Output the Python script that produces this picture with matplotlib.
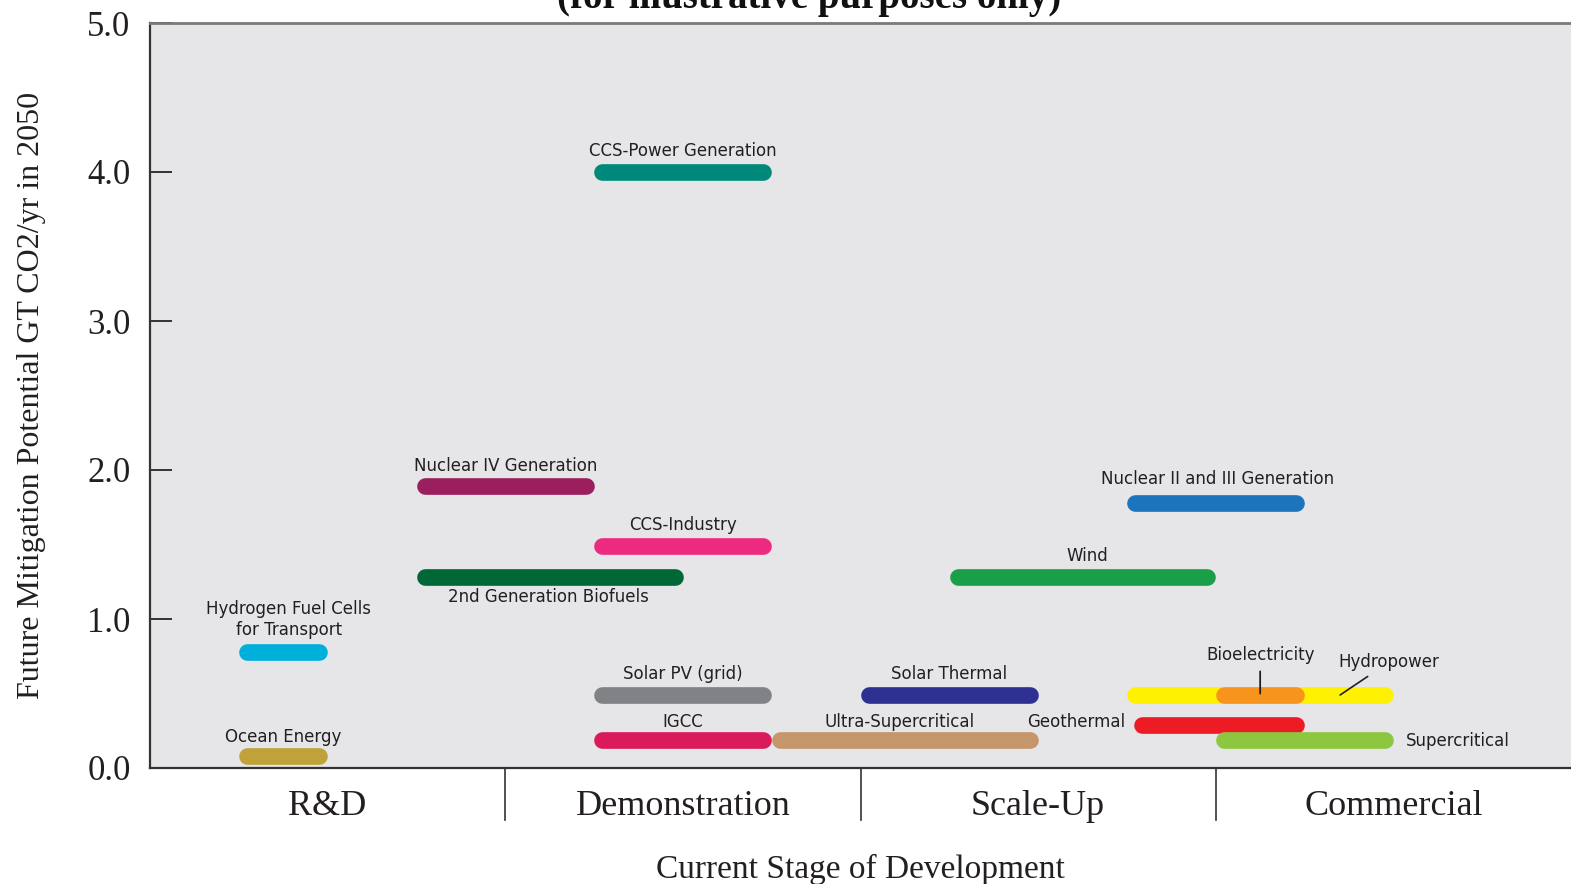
import matplotlib
matplotlib.use("Agg")
import matplotlib.pyplot as plt
import matplotlib.transforms as mtransforms

# stages of development (x axis)
stages = ['R&D', 'Demonstration', 'Scale-Up', 'Commercial']

# technologies: name, stage span (start, end), mitigation potential GT CO2/yr
techs = ['Ocean Energy', 'Hydrogen Fuel Cells\nfor Transport', 'Nuclear IV Generation',
         '2nd Generation Biofuels', 'CCS-Power Generation', 'CCS-Industry',
         'Solar PV (grid)', 'IGCC', 'Ultra-Supercritical', 'Solar Thermal', 'Wind',
         'Nuclear II and III Generation', 'Hydropower', 'Bioelectricity',
         'Geothermal', 'Supercritical']
x_start = [0.25, 0.25, 0.75, 0.75, 1.25, 1.25, 1.25, 1.25, 1.75, 2.00, 2.25,
           2.75, 2.75, 3.00, 2.77, 3.00]
x_end = [0.50, 0.50, 1.25, 1.50, 1.75, 1.75, 1.75, 1.75, 2.50, 2.50, 3.00,
         3.25, 3.50, 3.25, 3.25, 3.50]
potential = [0.08, 0.78, 1.89, 1.28, 4.00, 1.49, 0.49, 0.19, 0.19, 0.49, 1.28,
             1.78, 0.49, 0.49, 0.29, 0.19]
colors = ['#BFA33A', '#00B0DB', '#9B1F5E', '#006837', '#00897B', '#EC2A7F',
          '#808285', '#DA1A5A', '#C4966A', '#2E3192', '#1A9E48', '#1C75BC',
          '#FFF200', '#F7941D', '#ED1C24', '#8DC63F']

SERIF = 'Liberation Serif'
SANS = 'DejaVu Sans'
TXT = '#231f20'
FS = 12

fig = plt.figure(figsize=(15.71, 8.84), dpi=100)
ax = fig.add_axes([150 / 1571, 116 / 884, 1421 / 1571, 745 / 884])
ax.set_facecolor('#E6E6E8')
ax.set_xlim(0, 4)
ax.set_ylim(0, 5)

for side in ['left', 'bottom']:
    ax.spines[side].set_color('#333333')
    ax.spines[side].set_linewidth(1.6)
ax.spines['top'].set_color('#7a7a7a')
ax.spines['top'].set_linewidth(2.0)
ax.spines['right'].set_visible(False)

ax.set_yticks([0, 1, 2, 3, 4, 5])
ax.set_yticklabels(['0.0', '1.0', '2.0', '3.0', '4.0', '5.0'],
                   family=SERIF, fontsize=25, color=TXT)
ax.tick_params(axis='y', direction='in', length=16, width=1.4, color='#333333', pad=14)

ax.set_xticks([0.5, 1.5, 2.5, 3.5])
ax.set_xticklabels(stages, family=SERIF, fontsize=26, color=TXT)
ax.tick_params(axis='x', length=0, pad=16)

ax.set_xlabel('Current Stage of Development', family=SERIF, fontsize=24,
              color=TXT, labelpad=22)
ax.set_ylabel('Future Mitigation Potential GT CO2/yr in 2050', family=SERIF,
              fontsize=23, color=TXT, labelpad=30)

# stage dividers below the axis
trans = mtransforms.blended_transform_factory(ax.transData, ax.transAxes)
for xs in [1, 2, 3]:
    ax.plot([xs, xs], [0, -0.07], transform=trans, color='#333333', lw=1.2,
            clip_on=False)

# rounded bars
lw = 12
fig.canvas.draw()
px_per_unit = ax.transData.transform((1, 0))[0] - ax.transData.transform((0, 0))[0]
inset = (lw / 72 * fig.dpi / 2) / px_per_unit
for xs, xe, y, c in zip(x_start, x_end, potential, colors):
    ax.plot([xs + inset, xe - inset], [y, y], color=c, lw=lw,
            solid_capstyle='round', zorder=3)

# labels
special = {
    '2nd Generation Biofuels': dict(xytext=(-1, -14.5)),
    'Hydrogen Fuel Cells\nfor Transport': dict(xytext=(4, 23)),
    'Nuclear II and III Generation': dict(xytext=(1, 17)),
    'Wind': dict(xytext=(3.5, 15.5)),
    'Ultra-Supercritical': dict(xytext=(-3.5, 13)),
    'IGCC': dict(xytext=(0, 13)),
    'Ocean Energy': dict(xytext=(0, 13.5)),
}
for name, xs, xe, y in zip(techs, x_start, x_end, potential):
    xc = (xs + xe) / 2
    if name == 'Geothermal':
        ax.annotate(name, xy=(xs, y), xytext=(-6, 2), textcoords='offset points',
                    ha='right', va='center', family=SANS, fontsize=FS, color=TXT)
    elif name == 'Supercritical':
        ax.annotate(name, xy=(xe, y), xytext=(9, -1), textcoords='offset points',
                    ha='left', va='center', family=SANS, fontsize=FS, color=TXT)
    elif name == 'Bioelectricity':
        ax.annotate(name, xy=(xc, y), xytext=(0, 28.5), textcoords='offset points',
                    ha='center', va='center', family=SANS, fontsize=FS, color=TXT,
                    arrowprops=dict(arrowstyle='-', color='#231f20', lw=1.3,
                                    shrinkA=3, shrinkB=1))
    elif name == 'Hydropower':
        ax.annotate(name, xy=(3.35, y), xytext=(35, 23.5), textcoords='offset points',
                    ha='center', va='center', family=SANS, fontsize=FS, color=TXT,
                    arrowprops=dict(arrowstyle='-', color='#231f20', lw=1.2,
                                    shrinkA=3, shrinkB=0))
    else:
        off = special.get(name, dict(xytext=(0, 15)))['xytext']
        ax.annotate(name, xy=(xc, y), xytext=off, textcoords='offset points',
                    ha='center', va='center', family=SANS, fontsize=FS,
                    color=TXT, linespacing=1.2)

# title sits partly above the top edge, as in the source figure
fig.text(809 / 1571, 1 - 8 / 884, '(for illustrative purposes only)', family=SERIF,
         fontsize=28, fontweight='bold', ha='center', va='baseline', color='#111111')

fig.savefig('out.png', dpi=100)
